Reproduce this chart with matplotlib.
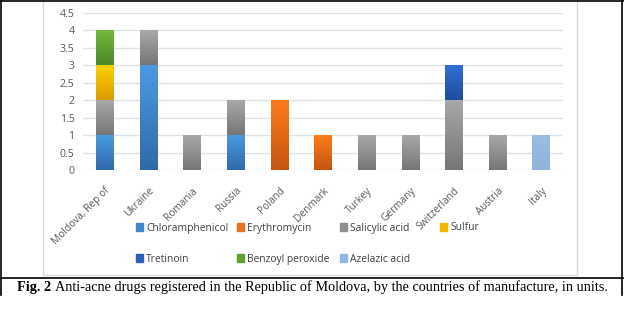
import numpy as np
import matplotlib
matplotlib.use("Agg")
import matplotlib.pyplot as plt
from matplotlib.colors import LinearSegmentedColormap
from matplotlib.patches import Rectangle
from matplotlib.lines import Line2D

countries = ["Moldova, Rep of", "Ukraine", "Romania", "Russia", "Poland", "Denmark",
             "Turkey", "Germany", "Switzerland", "Austria", "Italy"]

chloramphenicol = [1, 3, 0, 1, 0, 0, 0, 0, 0, 0, 0]
erythromycin = [0, 0, 0, 0, 2, 1, 0, 0, 0, 0, 0]
salicylic_acid = [1, 1, 1, 1, 0, 0, 1, 1, 2, 1, 0]
sulfur = [1, 0, 0, 0, 0, 0, 0, 0, 0, 0, 0]
tretinoin = [0, 0, 0, 0, 0, 0, 0, 0, 1, 0, 0]
benzoyl_peroxide = [1, 0, 0, 0, 0, 0, 0, 0, 0, 0, 0]
azelazic_acid = [0, 0, 0, 0, 0, 0, 0, 0, 0, 0, 1]

series = [
    ("Chloramphenicol", chloramphenicol, "#4b9be2", "#2e6aa8", "#3f86cc"),
    ("Erythromycin", erythromycin, "#ff7b1c", "#c4560f", "#ed7020"),
    ("Salicylic acid", salicylic_acid, "#a8a8a8", "#767676", "#8f8f8f"),
    ("Sulfur", sulfur, "#ffd000", "#d99c00", "#f2b800"),
    ("Tretinoin", tretinoin, "#2f70d8", "#1f4c9c", "#2a5fbd"),
    ("Benzoyl peroxide", benzoyl_peroxide, "#72bb3a", "#4a8a28", "#5fa232"),
    ("Azelazic acid", azelazic_acid, "#9bbde3", "#8fb3dd", "#95b8e0"),
]

W, H = 624, 327
fig = plt.figure(figsize=(W / 100, H / 100), dpi=100)
ax = fig.add_axes([83 / W, 1 - 170 / H, 480 / W, 157 / H])

x = np.arange(len(countries))
bottom = np.zeros(len(countries))
grad = np.linspace(1, 0, 64).reshape(-1, 1)
handles = {}
for name, vals, top_c, bot_c, leg_c in series:
    vals = np.array(vals, dtype=float)
    bars = ax.bar(x, vals, 0.4, bottom=bottom, color=leg_c, zorder=2, linewidth=0)
    cmap = LinearSegmentedColormap.from_list(name, [bot_c, top_c])
    for b, v in zip(bars, vals):
        if v <= 0:
            continue
        x0, y0 = b.get_x(), b.get_y()
        im = ax.imshow(grad, cmap=cmap, aspect="auto", zorder=3,
                       extent=[x0, x0 + b.get_width(), y0, y0 + b.get_height()])
        im.set_clip_path(b)
    bottom += vals
    handles[name] = Rectangle((0, 0), 1, 1, color=leg_c)

ax.set_xlim(-0.5, len(countries) - 0.5)
ax.set_ylim(0, 4.5)
ax.set_yticks(np.arange(0, 4.51, 0.5))
ax.set_yticklabels(["0", "0.5", "1", "1.5", "2", "2.5", "3", "3.5", "4", "4.5"])
ax.yaxis.grid(True, color="#dfe3ea", linewidth=1, zorder=0)
ax.set_axisbelow(True)
for s in ax.spines.values():
    s.set_visible(False)
ax.tick_params(length=0, labelsize=7.6, colors="#595959", pad=6)
ax.set_xticks(x)
ax.set_xticklabels(countries, rotation=45, ha="right", va="top", rotation_mode="anchor")
ax.tick_params(axis="x", labelsize=7.3, pad=11)
for t in ax.get_xticklabels() + ax.get_yticklabels():
    t.set_family("Open Sans")

# legend: 4 fixed-width columns, 2 rows (drawn one column at a time)
legend_cols = [["Chloramphenicol", "Tretinoin"], ["Erythromycin", "Benzoyl peroxide"],
               ["Salicylic acid", "Azelazic acid"], ["Sulfur"]]
col_x = [136, 237, 340, 440]
for names, cx in zip(legend_cols, col_x):
    fig.legend([handles[n] for n in names], names, frameon=False,
               loc="upper left", bbox_to_anchor=(cx / W, 1 - 222.5 / H),
               borderpad=0, borderaxespad=0,
               prop={"family": "Open Sans", "size": 7.4}, labelcolor="#404040",
               handlelength=0.7, handleheight=0.7, handletextpad=0.3,
               labelspacing=1.95)

# chart area border
fig.add_artist(Rectangle((43 / W, 1 - 275 / H), 534 / W, 280 / H, fill=False,
                         edgecolor="#d9d9d9", linewidth=1, transform=fig.transFigure))

# table frame
frame_kw = dict(color="black", linewidth=1.2, transform=fig.transFigure)
fig.add_artist(Line2D([1 / W, 1 / W], [1, 1 - 295 / H], **frame_kw))
fig.add_artist(Line2D([622 / W, 622 / W], [1, 1 - 295 / H], **frame_kw))
fig.add_artist(Line2D([0, 1], [1 - 1 / H, 1 - 1 / H], **frame_kw))
fig.add_artist(Line2D([0, 1], [1 - 277.5 / H, 1 - 277.5 / H], **frame_kw))

cap_y = 1 - 287 / H
t1 = fig.text(17 / W, cap_y, "Fig. 2", ha="left", va="center", fontsize=10.25,
              family="Liberation Serif", weight="bold")
fig.canvas.draw()
bb = t1.get_window_extent()
fig.text(bb.x1 / W + 4 / W, cap_y,
         "Anti-acne drugs registered in the Republic of Moldova, by the countries of manufacture, in units.",
         ha="left", va="center", fontsize=10.25, family="Liberation Serif")

fig.savefig("out.png", dpi=100)
